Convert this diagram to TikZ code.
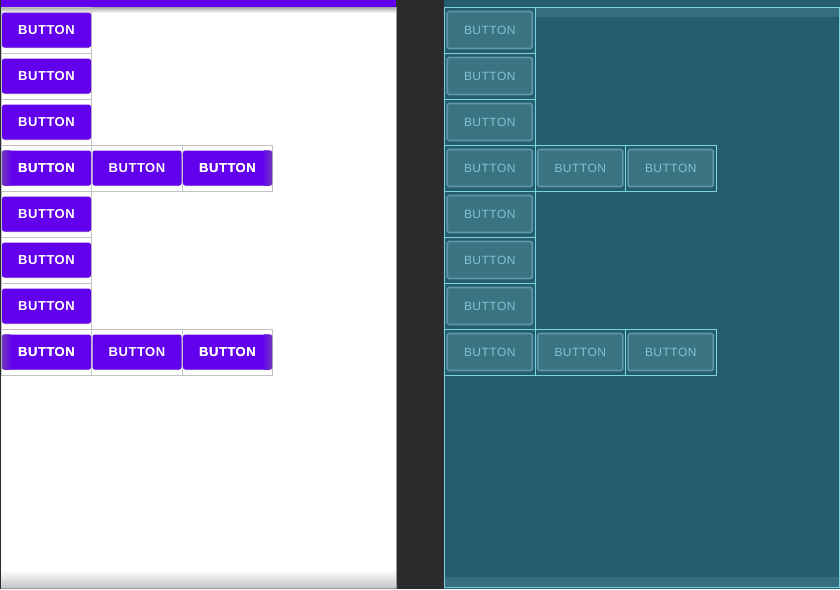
\documentclass[tikz,border=0pt]{standalone}
\usepackage{fontspec}
\newfontfamily\btnfont[LetterSpace=4]{Liberation Sans}
\usetikzlibrary{positioning}
\definecolor{appbar}{HTML}{6200EE}
\definecolor{canvas}{HTML}{2B2B2D}
\definecolor{blueprint}{HTML}{245D6E}
\definecolor{bpbutton}{HTML}{3A7483}
\definecolor{bpring}{HTML}{5C98A7}
\definecolor{bpedge}{HTML}{7DD3E5}
\definecolor{bptext}{HTML}{80C2CF}
\definecolor{gridgray}{HTML}{C2C2C2}
\tikzset{
  lbutton/.style={fill=appbar, rounded corners=2.5pt, text=white, inner sep=0pt,
    font=\btnfont\bfseries\fontsize{13}{14}\selectfont,
    minimum width=89pt, minimum height=35pt},
  rbutton/.style={fill=bpbutton, draw=bpring, line width=1.6pt, rounded corners=1.5pt,
    text=bptext, inner sep=0pt, font=\btnfont\fontsize{12}{12}\selectfont,
    minimum width=85pt, minimum height=37pt},
  lshadow/.style={fill=black!22, rounded corners=2.5pt},
  lcell/.style={draw=gridgray, line width=0.9pt},
  rcell/.style={draw=bpedge, line width=0.8pt}
}
\begin{document}
\begin{tikzpicture}[x=1pt, y=-1pt]

        % Panels
        \useasboundingbox (0,0) rectangle (840,589);
        \fill[canvas] (0,0) rectangle (840,589);
        \fill[white] (1,7) rectangle (396,587);
        \fill[appbar] (1,0) rectangle (396,7);
        \shade[top color=black!35, bottom color=white] (1,7) rectangle (396,13);
        \shade[top color=white, bottom color=black!22] (1,570) rectangle (396,587);
        \draw[black!40, line width=1pt] (396.5,7) -- (396.5,588) -- (1,588);
        \fill[blueprint] (444,0) rectangle (840,589);
        \fill[bpbutton!75!blueprint] (535,8) rectangle (839,17);
        \fill[bpbutton!75!blueprint] (445,577) rectangle (839,587);
        \draw[rcell] (444.5,7.5) rectangle (839.5,587.5);

        % Buttons, column 0
        \foreach \r in {0,...,7} {
          \draw[lcell] (1,7+46*\r) rectangle (91.5,53+46*\r);
          \fill[lshadow] (2,14+46*\r) rectangle (91,48+46*\r);
          \node[lbutton] (lb-\r-0) at (46.5,30+46*\r) {BUTTON};
          \draw[rcell] (444.5,7+46*\r) rectangle (535,53+46*\r);
          \node[rbutton] (rb-\r-0) at (489.75,30+46*\r) {BUTTON};
        }

        % Buttons, rows 3 and 7
        \foreach \r in {3,7} {
          \foreach \c in {1,2} {
            \draw[lcell] (1+90.5*\c,7+46*\r) rectangle (91.5+90.5*\c,53+46*\r);
            \fill[lshadow] (2+90.5*\c,14+46*\r) rectangle (91+90.5*\c,48+46*\r);
            \node[lbutton] (lb-\r-\c) at (46.5+90.5*\c,30+46*\r) {BUTTON};
            \draw[rcell] (444.5+90.5*\c,7+46*\r) rectangle (535+90.5*\c,53+46*\r);
            \node[rbutton] (rb-\r-\c) at (489.75+90.5*\c,30+46*\r) {BUTTON};
          }
          \shade[rounded corners=2.5pt, left color=appbar!55!gray, right color=appbar]
            (lb-\r-0.north west) rectangle ([xshift=10pt]lb-\r-0.south west);
          \shade[rounded corners=2.5pt, left color=appbar, right color=appbar!55!gray]
            ([xshift=-10pt]lb-\r-2.north east) rectangle (lb-\r-2.south east);
          \node[text=white, font=\btnfont\bfseries\fontsize{13}{14}\selectfont] at (lb-\r-0) {BUTTON};
          \node[text=white, font=\btnfont\bfseries\fontsize{13}{14}\selectfont] at (lb-\r-2) {BUTTON};
        }

    \end{tikzpicture}
\end{document}
